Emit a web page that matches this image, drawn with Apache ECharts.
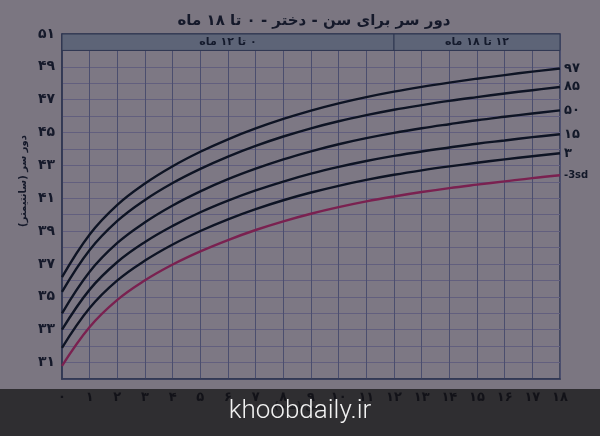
<!DOCTYPE html>
<html><head><meta charset="utf-8">
<script src="https://cdn.jsdelivr.net/npm/echarts@6/dist/echarts.min.js"></script>
<style>html,body{margin:0;padding:0;background:#7b7681;}#c{width:600px;height:436px;}</style>
</head><body><div id="c"></div>
<script>
var months = [0,1,2,3,4,5,6,7,8,9,10,11,12,13,14,15,16,17,18];
var xTickLabels = ['۰','۱','۲','۳','۴','۵','۶','۷','۸','۹','۱۰','۱۱','۱۲','۱۳','۱۴','۱۵','۱۶','۱۷','۱۸'];
var yTickValues = [31,33,35,37,39,41,43,45,47,49,51];
var yTickLabels = ['۳۱','۳۳','۳۵','۳۷','۳۹','۴۱','۴۳','۴۵','۴۷','۴۹','۵۱'];
var seriesNames = ['۹۷','۸۵','۵۰','۱۵','۳','-3sd'];
var p97  = [36.2,38.8,40.6,41.9,42.95,43.83,44.59,45.25,45.83,46.34,46.78,47.16,47.49,47.78,48.04,48.28,48.5,48.71,48.9];
var p85  = [35.3,37.85,39.62,40.9,41.93,42.79,43.54,44.19,44.76,45.26,45.69,46.06,46.39,46.67,46.93,47.16,47.38,47.58,47.77];
var p50  = [34.0,36.53,38.28,39.54,40.56,41.42,42.16,42.8,43.37,43.86,44.29,44.66,44.98,45.26,45.51,45.75,45.96,46.16,46.35];
var p15  = [33.0,35.44,37.12,38.34,39.32,40.15,40.86,41.48,42.02,42.5,42.91,43.27,43.58,43.85,44.09,44.32,44.52,44.72,44.9];
var p3   = [31.9,34.32,36.0,37.21,38.19,39.01,39.72,40.34,40.88,41.35,41.76,42.12,42.43,42.7,42.94,43.16,43.37,43.56,43.74];
var m3sd = [30.8,33.17,34.82,36.01,36.97,37.77,38.46,39.07,39.6,40.06,40.46,40.81,41.11,41.38,41.62,41.83,42.03,42.23,42.4];
var bandLabels = ['۰ تا ۱۲ ماه','۱۲ تا ۱۸ ماه'];
var titleText = 'دور سر برای سن - دختر - ۰ تا ۱۸ ماه';
var yName = 'دور سر (سانتیمتر)';
var xName = 'سن (ماه)';
var watermark = 'khoobdaily.ir';

function rtl(s){return '\u202B' + s + '\u202C';}
var all = [p97,p85,p50,p15,p3,m3sd];
var colors = ['#0e1424','#0e1424','#0e1424','#0e1424','#0e1424','#7a2150'];
var fa = 'DejaVu Sans, sans-serif';
var series = all.map(function(arr, i){
  var s = {
    type:'line', name:seriesNames[i], smooth:0.4, symbol:'none',
    data: months.map(function(m,j){return [m, arr[j]];}),
    lineStyle:{color:colors[i], width:2.4},
    endLabel:{show:true, formatter:seriesNames[i], color:'#121828', fontWeight:'bold',
      fontSize: i===5?10:13, fontFamily:fa, distance:4},
    z:5
  };
  if(i===0){
    s.markArea = {silent:true,
      itemStyle:{color:'#5d6477', borderColor:'#2e3651', borderWidth:1},
      label:{show:true, position:'inside', color:'#141a2c', fontWeight:'bold', fontSize:11, fontFamily:fa},
      data:[
        [{xAxis:0,yAxis:50,name:rtl(bandLabels[0])},{xAxis:12,yAxis:51}],
        [{xAxis:12,yAxis:50,name:rtl(bandLabels[1])},{xAxis:18,yAxis:51}]
      ]};
  }
  return s;
});

var chart = echarts.init(document.getElementById('c'), null, {renderer:'canvas'});
chart.setOption({
  backgroundColor:'#7b7681',
  animation:false,
  title:{text:rtl(titleText), left:309, top:9, textAlign:'center',
    textStyle:{color:'#15192a', fontSize:15, fontWeight:'bold', fontFamily:fa}},
  graphic:[
    {type:'rect', z:-10, shape:{x:0,y:389,width:600,height:47}, style:{fill:'#2f2e31'}},
    {type:'text', z:-5, x:300, y:406, style:{text:rtl(xName), fill:'#1c1c20', font:'bold 11px DejaVu Sans, sans-serif', align:'center', verticalAlign:'middle'}},
    {type:'text', z:100, left:'center', top:398, style:{text:watermark, fill:'#f2f2f2', font:'300 26px Roboto, sans-serif'}},
    {type:'text', z:100, x:23, y:181, rotation:Math.PI/2, style:{text:rtl(yName), fill:'#15192a', font:'bold 10px DejaVu Sans, sans-serif', align:'center', verticalAlign:'middle'}}
  ],
  grid:{left:62, right:40, top:34, bottom:57, show:true, borderColor:'#2e3651', borderWidth:1.5, backgroundColor:'#7d7884'},
  xAxis:{type:'value', min:0, max:18, interval:1,
    axisLine:{show:true, lineStyle:{color:'#2e3651', width:1.5}},
    axisTick:{show:false},
    axisLabel:{margin:12, color:'#121218', fontSize:13, fontWeight:'bold', fontFamily:fa,
      formatter:function(v){return xTickLabels[months.indexOf(v)]||'';}},
    splitLine:{show:true, lineStyle:{color:'#4b4e6e', width:1}}
  },
  yAxis:{type:'value', min:30, max:51, interval:1,
    axisLine:{show:true, lineStyle:{color:'#2e3651', width:1.5}},
    axisTick:{show:false},
    axisLabel:{margin:7, color:'#15192a', fontSize:14, fontWeight:'bold', fontFamily:fa,
      formatter:function(v){var k=yTickValues.indexOf(v);return k>=0?yTickLabels[k]:'';}},
    splitLine:{show:true, lineStyle:{color:'#625f7e', width:1}}
  },
  series:series
});
</script></body></html>
